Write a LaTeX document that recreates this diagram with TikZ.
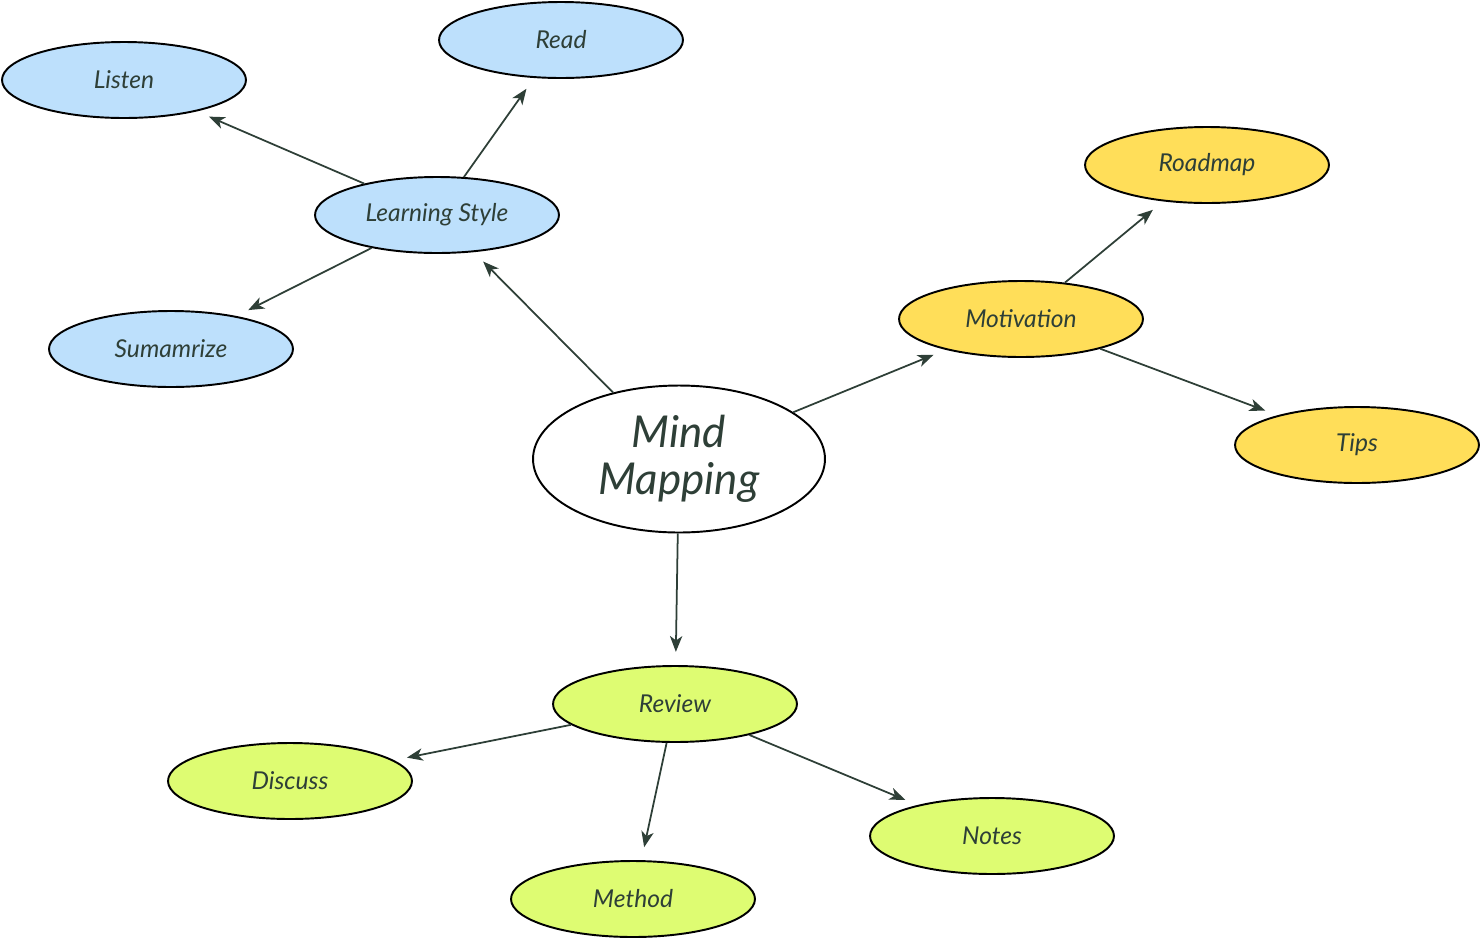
\documentclass[tikz,border=0pt]{standalone}
\usepackage{fontspec}
\setmainfont{Lato}
\usepackage{tikz}
\usetikzlibrary{shapes.geometric}
\usetikzlibrary{arrows.meta}

\definecolor{inkc}{HTML}{2E3F37}
\definecolor{bluec}{HTML}{BDE0FC}
\definecolor{yellowc}{HTML}{FFDE59}
\definecolor{greenc}{HTML}{DEFC72}

\tikzset{
	leaf/.style={ellipse,draw=black,line width=1.1pt,inner sep=0pt,
		minimum width=4.88cm,minimum height=1.52cm,
		font=\fontsize{14}{16}\selectfont\itshape,text=inkc},
	link/.style={draw=inkc,line width=1pt,-{Stealth[length=9pt,width=7pt,inset=2.5pt]},
		shorten >=7.5pt}
}

\begin{document}
\begin{tikzpicture}[x=0.02cm,y=-0.02cm]
		\useasboundingbox (0,0) rectangle (1482,941);

		\node[ellipse,draw=black,line width=1.1pt,fill=white,inner sep=0pt,
			minimum width=5.84cm,minimum height=2.94cm,align=center,
			font=\fontsize{25}{27}\selectfont\itshape,text=inkc]
			(MM) at (679,459) {Mind\\Mapping};

		% blue part
		\node[leaf,fill=bluec] (LS) at (437,215) {Learning Style};
		\node[leaf,fill=bluec] (LSa) at (124,80) {Listen};
		\node[leaf,fill=bluec] (LSb) at (561,40) {Read};
		\node[leaf,fill=bluec] (LSc) at (171,349) {Sumamrize};

		% yellow part
		\node[leaf,fill=yellowc] (MO) at (1021,319) {Motivation};
		\node[leaf,fill=yellowc] (MOa) at (1207,165) {Roadmap};
		\node[leaf,fill=yellowc] (MOb) at (1357,445) {Tips};

		% green part
		\node[leaf,fill=greenc] (RE) at (675,704) {Review};
		\node[leaf,fill=greenc] (REa) at (290,781) {Discuss};
		\node[leaf,fill=greenc] (REb) at (633,899) {Method};
		\node[leaf,fill=greenc] (REc) at (992,836) {Notes};

		\draw[link] (MM)--(LS);
		\draw[link] (MM)--(MO);
		\draw[link] (MM)--(RE);

		\draw[link] (LS)--(LSa);
		\draw[link] (LS)--(LSb);
		\draw[link] (LS)--(LSc);

		\draw[link] (MO)--(MOa);
		\draw[link] (MO)--(MOb);

		\draw[link] (RE)--(REa);
		\draw[link] (RE)--(REb);
		\draw[link] (RE)--(REc);
\end{tikzpicture}
\end{document}
